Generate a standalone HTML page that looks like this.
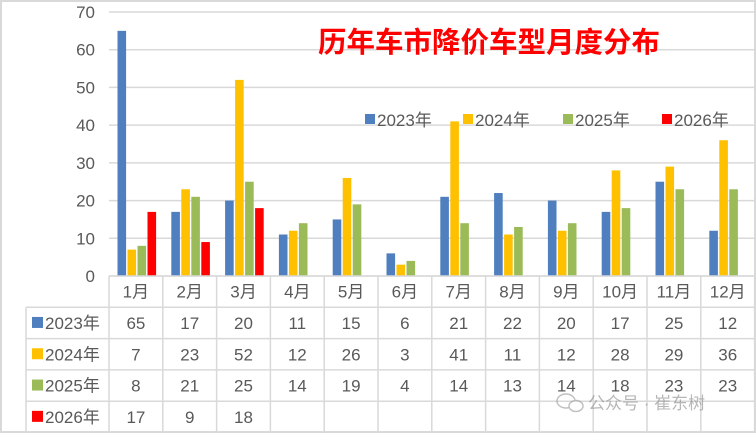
<!DOCTYPE html>
<html><head><meta charset="utf-8"><style>
body{margin:0;background:#fff;}
svg{display:block;font-family:"Liberation Sans","Noto Sans CJK SC",sans-serif;}
</style></head><body>
<svg width="756" height="433" viewBox="0 0 756 433" id="chart">
<rect x="1" y="1" width="754" height="431" fill="#fff" stroke="#d9d9d9" stroke-width="2"/>
<g id="grid"></g>
<g id="bars"></g>
<g id="yaxis"></g>
<g id="table"></g>
<text x="489" y="52" text-anchor="middle" font-size="28.5" font-weight="bold" fill="#ff0000">历年车市降价车型月度分布</text>
<g id="legend"></g>
<g opacity="0.6">
<ellipse cx="566" cy="401" rx="9" ry="7" fill="none" stroke="#999" stroke-width="1.5"/>
<ellipse cx="576" cy="406" rx="7" ry="5.5" fill="#fff" stroke="#999" stroke-width="1.5"/>
<text x="588" y="409" font-size="17" fill="#888">公众号 · 崔东树</text>
</g>
</svg>
<script>
const categories=["1月","2月","3月","4月","5月","6月","7月","8月","9月","10月","11月","12月"];
const seriesNames=["2023年","2024年","2025年","2026年"];
const s2023=[65,17,20,11,15,6,21,22,20,17,25,12];
const s2024=[7,23,52,12,26,3,41,11,12,28,29,36];
const s2025=[8,21,25,14,19,4,14,13,14,18,23,23];
const s2026=[17,9,18,null,null,null,null,null,null,null,null,null];
const yTicks=[0,10,20,30,40,50,60,70];
const colors=["#4f7fbf","#ffc000","#9bbb59","#ff0000"];
const series=[s2023,s2024,s2025,s2026];
const NS="http://www.w3.org/2000/svg";
const x0=109,cw=53.8,y0=276,yTop=12,yMax=70;
const y=v=>y0-(v/yMax)*(y0-yTop);
function mk(tag,attrs,parent,text){const e=document.createElementNS(NS,tag);for(const k in attrs)e.setAttribute(k,attrs[k]);if(text!==undefined)e.textContent=text;parent.appendChild(e);return e;}
const grid=document.getElementById('grid'),bars=document.getElementById('bars'),yaxis=document.getElementById('yaxis'),table=document.getElementById('table'),legend=document.getElementById('legend');
yTicks.forEach(t=>{
 const l=mk('line',{x1:x0,x2:755,y1:y(t),y2:y(t),stroke:'#d9d9d9','stroke-width':1.5},grid);
 
 
 const tx=mk('text',{x:95,y:y(t)+6,'text-anchor':'end','font-size':17,fill:'#595959'},yaxis,String(t));
 
 
});
const bw=8.6,gap=1.4,off=8.5;
series.forEach((s,si)=>{
 s.forEach((v,ci)=>{
  if(v==null)return;
  const bx=x0+ci*cw+off+si*(bw+gap);
  const r=mk('rect',{x:bx,y:y(v),width:bw,height:y0-y(v),fill:colors[si]},bars);
  
  
 });
});
const rh=31.3,tTop=276,tLeft=26,stroke='#d9d9d9';
const xEnd=x0+cw*12;
mk('line',{x1:x0,x2:xEnd,y1:tTop,y2:tTop,stroke:stroke,'stroke-width':1.5},table);
for(let r=1;r<=5;r++){
 const yy=tTop+rh*r;
 mk('line',{x1:tLeft,x2:xEnd,y1:yy,y2:yy,stroke:stroke,'stroke-width':1.5},table);
}
mk('line',{x1:tLeft,x2:tLeft,y1:tTop+rh,y2:433,stroke:stroke,'stroke-width':1.5},table);
for(let c=0;c<=12;c++){
 mk('line',{x1:x0+c*cw,x2:x0+c*cw,y1:tTop,y2:433,stroke:stroke,'stroke-width':1.5},table);
}
categories.forEach((c,ci)=>{
 const t=mk('text',{x:x0+ci*cw+cw/2,y:tTop+rh/2+6,'text-anchor':'middle','font-size':17,fill:'#595959'},table,c);
 
 
});
series.forEach((s,si)=>{
 const ry=tTop+rh*(si+1);
 const k=mk('rect',{x:32,y:ry+rh/2-6,width:11,height:11,fill:colors[si]},table);
 
 
 const n=mk('text',{x:45,y:ry+rh/2+6,'font-size':17,fill:'#595959'},table,seriesNames[si]);
 
 
 s.forEach((v,ci)=>{
  if(v==null)return;
  const t=mk('text',{x:x0+ci*cw+cw/2,y:ry+rh/2+6,'text-anchor':'middle','font-size':17,fill:'#595959'},table,String(v));
  
  
 });
});
const lx=[365,463,563,662];
seriesNames.forEach((n,i)=>{
 const k=mk('rect',{x:lx[i],y:114,width:10,height:10,fill:colors[i]},legend);
 
 
 const t=mk('text',{x:lx[i]+12,y:126,'font-size':17,fill:'#595959'},legend,n);
 
 
});
</script>
</body></html>
